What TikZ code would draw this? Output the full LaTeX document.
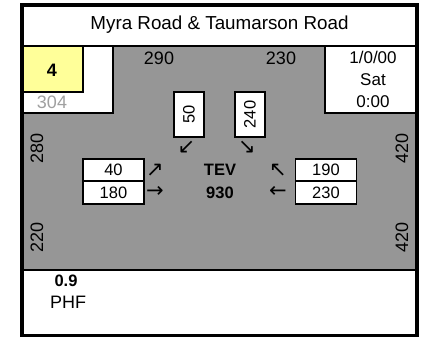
\documentclass[tikz,border=0pt]{standalone}
\usepackage{fontspec}
\setmainfont{Liberation Sans}
\newfontfamily\arrfont{DejaVu Sans}
\definecolor{roadgray}{RGB}{150,150,150}
\definecolor{paleyellow}{RGB}{255,255,153}
\definecolor{softgray}{RGB}{160,160,160}
\tikzset{
  cell/.style={draw=black, line width=1.8pt},
  lbl/.style={inner sep=0pt, font=\fontsize{18}{20}\selectfont},
  boxnum/.style={inner sep=0pt, font=\fontsize{16.5}{18}\selectfont},
  boldlbl/.style={inner sep=0pt, font=\bfseries\fontsize{16.5}{18}\selectfont},
  arrowglyph/.style={inner sep=0pt, font=\arrfont\fontsize{21}{23}\selectfont},
  vbox/.style={draw=black, line width=1.8pt, fill=white, minimum width=30pt, minimum height=45pt, inner sep=0pt},
  hbox/.style={draw=black, line width=1.8pt, fill=white, minimum width=61pt, minimum height=22.5pt, inner sep=0pt, font=\fontsize{16.5}{18}\selectfont},
}
\begin{document}
\begin{tikzpicture}[x=1pt,y=-1pt]
\useasboundingbox (0,0) rectangle (423,337);
% title band and areas
\fill[white] (22,5) rectangle (417,46);
\fill[roadgray] (22,46) rectangle (417,270);
\fill[white] (22,270) rectangle (417,336);
% top-left corner boxes
\draw[cell, fill=white] (22,46) rectangle (113,113);
\draw[cell, fill=paleyellow] (22,46) rectangle (83,92);
% top-right box
\draw[cell, fill=white] (325,46) rectangle (417,113);
% divider lines
\draw[line width=2.5pt] (22,46) -- (417,46);
\draw[line width=2.5pt] (22,270) -- (417,270);
% outer frame
\draw[line width=3.6pt] (22,5) rectangle (417,336);

% title
\node[lbl, font=\fontsize{18.8}{21}\selectfont] (title) at (219.5,25) {Myra Road \& Taumarson Road};
% corner texts
\node[inner sep=0pt, font=\bfseries\fontsize{18}{20}\selectfont] (num) at (52,70) {4};
\node[lbl, text=softgray] (code) at (52,102) {304};
\node[lbl, font=\fontsize{17}{19}\selectfont] (date) at (373,57) {1/0/00};
\node[lbl, font=\fontsize{17}{19}\selectfont] (day) at (373,80) {Sat};
\node[lbl, font=\fontsize{17}{19}\selectfont] (time) at (373,102) {0:00};
% approach totals
\node[lbl] (ntopl) at (159,58) {290};
\node[lbl] (ntopr) at (281,58) {230};
\node[lbl, rotate=90] (wupper) at (37,148) {280};
\node[lbl, rotate=90] (eupper) at (402,148) {420};
\node[lbl, rotate=90] (wlower) at (37,237) {220};
\node[lbl, rotate=90] (elower) at (402,237) {420};
% north approach boxes
\node[vbox] (nb1) at (189,114.5) {};
\node[boxnum, rotate=90] (nb1t) at (nb1.center) {50};
\node[vbox] (nb2) at (250,114.5) {};
\node[boxnum, rotate=90] (nb2t) at (nb2.center) {240};
\node[arrowglyph] (na1) at (186.5,147) {↙};
\node[arrowglyph] (na2) at (247,147) {↘};
% west approach boxes
\node[hbox] (wb1) at (113.5,170) {40};
\node[hbox] (wb2) at (113.5,192.5) {180};
\node[arrowglyph] (wa1) at (155,170) {↗};
\node[arrowglyph] (wa2) at (155,192) {→};
% east approach boxes
\node[hbox] (eb1) at (326,170) {190};
\node[hbox] (eb2) at (326,192.5) {230};
\node[arrowglyph] (ea1) at (278,170) {↖};
\node[arrowglyph] (ea2) at (278,192) {←};
% centre
\node[boldlbl] (tev) at (220,169.5) {TEV};
\node[boldlbl] (tot) at (220,192.5) {930};
% PHF
\node[boldlbl] (phfv) at (66,281) {0.9};
\node[lbl] (phf) at (68,302) {PHF};
\end{tikzpicture}
\end{document}
